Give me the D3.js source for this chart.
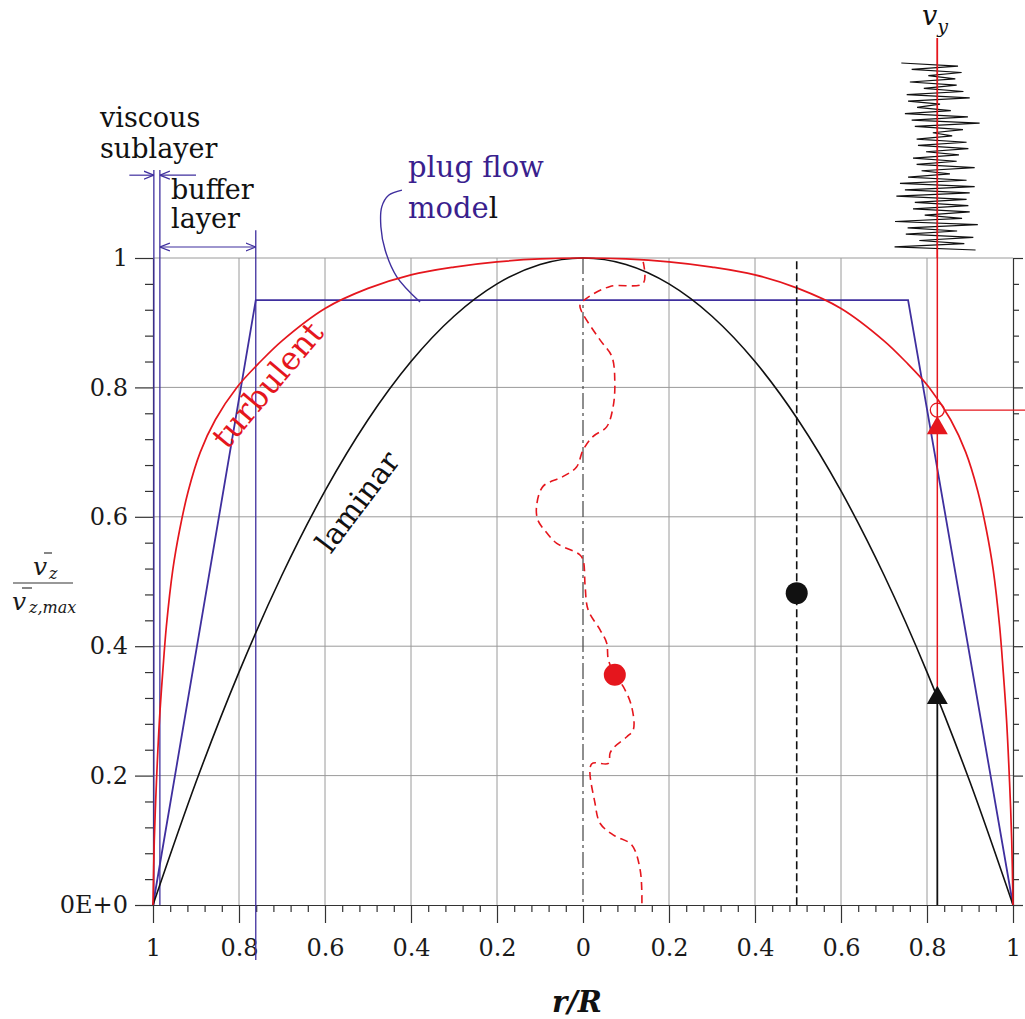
<!DOCTYPE html>
<html lang="en">
<head>
<meta charset="UTF-8" />
<title>Pipe flow velocity profiles</title>
<script src="https://d3js.org/d3.v7.min.js"></script>
<style>
  body { margin: 0; background: #fff; }
  svg { display: block; font-family: 'DejaVu Serif', serif; }
  .axis path, .axis line { stroke: #333; stroke-width: 1.2; }
  .axis text { font-family: 'DejaVu Serif', serif; font-size: 24px; fill: #1a1a1a; }
  .grid line { stroke: #9a9a9a; stroke-width: 1; }
</style>
</head>
<body>
<svg id="chart" width="1025" height="1019"></svg>
<script>
// tick values and labels
const xMajor = [-1, -0.8, -0.6, -0.4, -0.2, 0, 0.2, 0.4, 0.6, 0.8, 1];
const yMajor = [0, 0.2, 0.4, 0.6, 0.8, 1];
const yTickLabels = ["0E+0", "0.2", "0.4", "0.6", "0.8", "1"];

// laminar profile
const laminarR = [-1, -0.9, -0.8, -0.7, -0.6, -0.5, -0.4, -0.3, -0.2, -0.1, 0, 0.1, 0.2, 0.3, 0.4, 0.5, 0.6, 0.7, 0.8, 0.9, 1];
const laminarV = [0, 0.19, 0.36, 0.51, 0.64, 0.75, 0.84, 0.91, 0.96, 0.99, 1, 0.99, 0.96, 0.91, 0.84, 0.75, 0.64, 0.51, 0.36, 0.19, 0];

// turbulent profile
const turbR = [-1, -0.997, -0.992, -0.985, -0.977, -0.969, -0.954, -0.938, -0.918, -0.89, -0.855, -0.805, -0.75, -0.7, -0.6, -0.5, -0.4, -0.3, -0.2, -0.1, 0,
               0.1, 0.2, 0.3, 0.4, 0.5, 0.6, 0.7, 0.75, 0.805, 0.855, 0.89, 0.918, 0.938, 0.954, 0.969, 0.977, 0.985, 0.992, 0.997, 1];
const turbV = [0, 0.1, 0.19, 0.286, 0.363, 0.43, 0.518, 0.58, 0.64, 0.70, 0.75, 0.80, 0.84, 0.872, 0.922, 0.953, 0.974, 0.986, 0.994, 0.9985, 1,
               0.9985, 0.994, 0.986, 0.974, 0.953, 0.922, 0.872, 0.84, 0.80, 0.75, 0.70, 0.64, 0.58, 0.518, 0.43, 0.363, 0.286, 0.19, 0.1, 0];

// plug flow model
const plugR = [-1, -0.761, 0.756, 1];
const plugV = [0, 0.935, 0.935, 0];

// instantaneous velocity (red dashed)
const fluctR = [0.14, 0.14, 0.063, 0.009, -0.007, -0.003, 0.04, 0.067, 0.074, 0.07, 0.055, 0.023, 0, -0.015, -0.047, -0.093,
                -0.108, -0.105, -0.084, -0.061, -0.007, 0.001, 0.005, 0.012, 0.04, 0.055, 0.059, 0.074, 0.094, 0.113, 0.117,
                0.102, 0.074, 0.063, 0.059, 0.02, 0.028, 0.04, 0.071, 0.113, 0.133, 0.137];
const fluctV = [0.994, 0.961, 0.956, 0.938, 0.927, 0.917, 0.873, 0.848, 0.807, 0.77, 0.739, 0.724, 0.703, 0.677, 0.662, 0.647,
                0.616, 0.595, 0.575, 0.559, 0.541, 0.531, 0.492, 0.456, 0.425, 0.405, 0.379, 0.356, 0.337, 0.307, 0.271,
                0.26, 0.245, 0.235, 0.219, 0.218, 0.157, 0.126, 0.108, 0.093, 0.054, 0];

// point markers
const probeR = 0.824;
const redDot = [0.074, 0.356];
const blackDot = [0.497, 0.482];
const openCircle = [0.824, 0.765];
const redTri = [0.824, 0.737];
const blackTri = [0.824, 0.32];

// v_y signal trace (dimensionless)
const vyTrace = [-0.80, 0.46, -0.57, 0.54, -0.2, 0.40, -0.61, 0.43, -0.3, 0.58, -0.68, 0.72, -0.65, 0.06, -0.45, 0.30,
                 -0.72, 0.68, -0.57, 0.94, -0.50, 0.57, -0.1, 0.33, -0.46, 0.65, -0.43, 0.69, -0.25, 0.48, -0.54, 0.43,
                 -0.46, 0.83, -0.35, 0.28, -0.65, 0.65, -0.83, 0.83, -0.72, 0.72, -0.91, 0.65, -0.5, 0.69, -0.54, 0.72,
                 -0.28, 0.55, -0.94, 0.9, -0.66, 0.44, -0.7, 0.8, -0.4, 0.6, -0.95, 0.85];

// plug flow callout curve
const calloutR = [-0.421, -0.452, -0.468, -0.47, -0.46, -0.433, -0.379];
const calloutV = [1.105, 1.097, 1.079, 1.048, 1.012, 0.971, 0.932];

const RED = "#e5161d", PURPLE = "#3f2f9e", BLACK = "#111";

const svg = d3.select("#chart");
svg.append("rect").attr("width", 1025).attr("height", 1019).attr("fill", "#fff");

const x = d3.scaleLinear().domain([-1, 1]).range([153, 1013]);
const y = d3.scaleLinear().domain([0, 1]).range([905, 258]);
const line = d3.line().x(d => x(d[0])).y(d => y(d[1]));
const smooth = d3.line().x(d => x(d[0])).y(d => y(d[1])).curve(d3.curveCatmullRom.alpha(0.5));

// markers for arrows
const defs = svg.append("defs");
defs.append("marker")
  .attr("id", "arrowP")
  .attr("viewBox", "0 0 10 10")
  .attr("refX", 10).attr("refY", 5)
  .attr("markerWidth", 10).attr("markerHeight", 10)
  .attr("markerUnits", "userSpaceOnUse")
  .attr("orient", "auto-start-reverse")
  .append("path")
  .attr("d", "M0,1 L10,5 L0,9")
  .attr("fill", "none")
  .attr("stroke", PURPLE)
  .attr("stroke-width", 1.3);

// grid
const grid = svg.append("g").attr("class", "grid");
grid.selectAll(".gx")
  .data(xMajor.filter(d => d !== 0 && Math.abs(d) !== 1))
  .join("line")
  .attr("class", "gx")
  .attr("x1", d => x(d)).attr("x2", d => x(d))
  .attr("y1", y(0)).attr("y2", y(1));
grid.selectAll(".gy")
  .data(yMajor.filter(d => d > 0))
  .join("line")
  .attr("class", "gy")
  .attr("x1", x(-1)).attr("x2", x(1))
  .attr("y1", d => y(d)).attr("y2", d => y(d));

// centre line
svg.append("line")
  .attr("x1", x(0)).attr("x2", x(0))
  .attr("y1", y(1)).attr("y2", y(0))
  .attr("stroke", "#444").attr("stroke-width", 1.2)
  .attr("stroke-dasharray", "16,4,3,4");

// axes
const xMinor = d3.range(-1, 1.0001, 0.04).filter(d => Math.abs(Math.round(d * 5) - d * 5) > 1e-6);
const yMinor = d3.range(0, 1.0001, 0.04).filter(d => Math.abs(Math.round(d * 5) - d * 5) > 1e-6);

svg.append("g").attr("class", "axis")
  .attr("transform", `translate(0,${y(0)})`)
  .call(d3.axisBottom(x).tickValues(xMajor).tickSize(18).tickSizeOuter(0).tickPadding(16)
    .tickFormat(d => d3.format("~g")(Math.abs(d))));
svg.append("g").attr("class", "axis")
  .attr("transform", `translate(0,${y(0)})`)
  .call(d3.axisBottom(x).tickValues(xMinor).tickSize(7).tickFormat(""))
  .call(g => g.select(".domain").remove());

svg.append("g").attr("class", "axis")
  .attr("transform", `translate(${x(-1)},0)`)
  .call(d3.axisLeft(y).tickValues(yMajor).tickSize(18).tickSizeOuter(0).tickPadding(7)
    .tickFormat((d, i) => yTickLabels[i]));
svg.append("g").attr("class", "axis")
  .attr("transform", `translate(${x(-1)},0)`)
  .call(d3.axisLeft(y).tickValues(yMinor).tickSize(8).tickFormat(""))
  .call(g => g.select(".domain").remove());

svg.append("g").attr("class", "axis")
  .attr("transform", `translate(${x(1)},0)`)
  .call(d3.axisRight(y).tickValues(yMajor).tickSize(10).tickSizeOuter(0).tickFormat(""));
svg.append("g").attr("class", "axis")
  .attr("transform", `translate(${x(1)},0)`)
  .call(d3.axisRight(y).tickValues(yMinor).tickSize(6).tickFormat(""))
  .call(g => g.select(".domain").remove());

// layer boundaries (purple verticals)
const layerLines = [[-0.998, 1.136, 0], [-0.984, 1.136, 0], [-0.761, 1.043, -0.085]];
svg.selectAll(".layer")
  .data(layerLines)
  .join("line")
  .attr("class", "layer")
  .attr("x1", d => x(d[0])).attr("x2", d => x(d[0]))
  .attr("y1", d => y(d[1])).attr("y2", d => y(d[2]))
  .attr("stroke", PURPLE).attr("stroke-width", 1.3);

// arrows
svg.append("line")
  .attr("x1", x(-1.055)).attr("x2", x(-0.998))
  .attr("y1", y(1.128)).attr("y2", y(1.128))
  .attr("stroke", PURPLE).attr("stroke-width", 1.2)
  .attr("marker-end", "url(#arrowP)");
svg.append("line")
  .attr("x1", x(-0.9)).attr("x2", x(-0.984))
  .attr("y1", y(1.128)).attr("y2", y(1.128))
  .attr("stroke", PURPLE).attr("stroke-width", 1.2)
  .attr("marker-end", "url(#arrowP)");
svg.append("line")
  .attr("x1", x(-0.984)).attr("x2", x(-0.761))
  .attr("y1", y(1.017)).attr("y2", y(1.017))
  .attr("stroke", PURPLE).attr("stroke-width", 1.2)
  .attr("marker-start", "url(#arrowP)")
  .attr("marker-end", "url(#arrowP)");

// plug flow
svg.append("path")
  .datum(d3.zip(plugR, plugV))
  .attr("d", line)
  .attr("fill", "none").attr("stroke", PURPLE).attr("stroke-width", 1.8);

// callout
svg.append("path")
  .datum(d3.zip(calloutR, calloutV))
  .attr("d", smooth)
  .attr("fill", "none").attr("stroke", PURPLE).attr("stroke-width", 1.4);

// laminar
svg.append("path")
  .datum(d3.zip(laminarR, laminarV))
  .attr("d", d3.line().x(d => x(d[0])).y(d => y(d[1])).curve(d3.curveMonotoneX))
  .attr("fill", "none").attr("stroke", BLACK).attr("stroke-width", 1.6);

// turbulent
svg.append("path")
  .datum(d3.zip(turbR, turbV))
  .attr("d", smooth)
  .attr("fill", "none").attr("stroke", RED).attr("stroke-width", 1.7);

// black dashed probe line
svg.append("line")
  .attr("x1", x(blackDot[0])).attr("x2", x(blackDot[0]))
  .attr("y1", y(0.995)).attr("y2", y(0))
  .attr("stroke", BLACK).attr("stroke-width", 1.6)
  .attr("stroke-dasharray", "8,4");

// instantaneous velocity profile
svg.append("path")
  .datum(d3.zip(fluctR, fluctV))
  .attr("d", smooth)
  .attr("fill", "none").attr("stroke", RED).attr("stroke-width", 1.6)
  .attr("stroke-dasharray", "8,5");

// red probe: vertical line and horizontal line
svg.append("line")
  .attr("x1", x(probeR)).attr("x2", x(probeR))
  .attr("y1", y(1.34)).attr("y2", y(blackTri[1]))
  .attr("stroke", RED).attr("stroke-width", 1.5);
svg.append("line")
  .attr("x1", x(probeR)).attr("x2", x(probeR))
  .attr("y1", y(blackTri[1])).attr("y2", y(0))
  .attr("stroke", BLACK).attr("stroke-width", 1.8);
svg.append("line")
  .attr("x1", x(openCircle[0]) + 7).attr("x2", 1025)
  .attr("y1", y(openCircle[1])).attr("y2", y(openCircle[1]))
  .attr("stroke", RED).attr("stroke-width", 1.2);

// v_y signal trace
const vyX = d3.scaleLinear().domain([-1, 1]).range([x(probeR) - 45, x(probeR) + 45]);
const vyY = d3.scaleLinear().domain([0, vyTrace.length - 1]).range([63, 250]);
svg.append("path")
  .datum(vyTrace)
  .attr("d", d3.line().x(d => vyX(d)).y((d, i) => vyY(i)))
  .attr("fill", "none").attr("stroke", BLACK).attr("stroke-width", 1.2);
// red line drawn again on top of the trace
svg.append("line")
  .attr("x1", x(probeR)).attr("x2", x(probeR))
  .attr("y1", y(1.34)).attr("y2", y(1))
  .attr("stroke", RED).attr("stroke-width", 1.5);

// dots
svg.append("circle")
  .attr("cx", x(redDot[0])).attr("cy", y(redDot[1])).attr("r", 11).attr("fill", RED);
svg.append("circle")
  .attr("cx", x(blackDot[0])).attr("cy", y(blackDot[1])).attr("r", 11).attr("fill", BLACK);
svg.append("circle")
  .attr("cx", x(openCircle[0])).attr("cy", y(openCircle[1])).attr("r", 7)
  .attr("fill", "none").attr("stroke", RED).attr("stroke-width", 1.3);

// triangles
const tri = d3.symbol().type(d3.symbolTriangle).size(190);
svg.append("path")
  .attr("d", tri)
  .attr("transform", `translate(${x(redTri[0])},${y(redTri[1])})`)
  .attr("fill", RED);
svg.append("path")
  .attr("d", tri)
  .attr("transform", `translate(${x(blackTri[0])},${y(blackTri[1])})`)
  .attr("fill", BLACK);

// text labels
const label = (txt, px, py, size, color) => svg.append("text")
  .attr("x", px).attr("y", py)
  .attr("font-size", size).attr("fill", color)
  .text(txt);

label("viscous", 100, 127, 27, "#111");
label("sublayer", 100, 158, 27, "#111");
label("buffer", 171, 199, 27, "#111");
label("layer", 171, 228, 27, "#111");

label("plug flow", 408, 177, 29, "#3a1f8e");
const model = label("model", 408, 218, 29, "#3a1f8e");
model.text("mode");
model.append("tspan").attr("fill", BLACK).text("l");

svg.append("text")
  .attr("transform", "translate(276,392) rotate(-50)")
  .attr("text-anchor", "middle")
  .attr("font-size", 32).attr("fill", RED)
  .text("turbulent");
svg.append("text")
  .attr("transform", "translate(366,508) rotate(-53)")
  .attr("text-anchor", "middle")
  .attr("font-size", 30).attr("fill", BLACK)
  .text("laminar");

// v_y label
const vy = svg.append("text").attr("x", 922).attr("y", 25)
  .attr("font-size", 27).attr("font-style", "italic").attr("fill", "#111");
vy.append("tspan").text("v");
vy.append("tspan").attr("dy", 8).attr("font-size", 19).text("y");

// axis titles
svg.append("text")
  .attr("x", 552).attr("y", 1012)
  .attr("font-size", 29).attr("font-weight", "bold").attr("font-style", "italic")
  .attr("fill", "#111")
  .text("r/R");

const yl = svg.append("g").attr("fill", "#1a1a1a").attr("font-style", "italic");
yl.append("text").attr("x", 33).attr("y", 575).attr("font-size", 25).text("v");
yl.append("text").attr("x", 49).attr("y", 579).attr("font-size", 16).text("z");
yl.append("line").attr("x1", 44).attr("x2", 52).attr("y1", 553).attr("y2", 553).attr("stroke", "#333").attr("stroke-width", 1.2);
yl.append("line").attr("x1", 13).attr("x2", 73).attr("y1", 583).attr("y2", 583).attr("stroke", "#333").attr("stroke-width", 1.2);
yl.append("text").attr("x", 12).attr("y", 610).attr("font-size", 25).text("v");
yl.append("line").attr("x1", 22).attr("x2", 32).attr("y1", 588).attr("y2", 588).attr("stroke", "#333").attr("stroke-width", 1.2);
yl.append("text").attr("x", 29).attr("y", 613).attr("font-size", 16).text("z,max");
</script>
</body>
</html>
